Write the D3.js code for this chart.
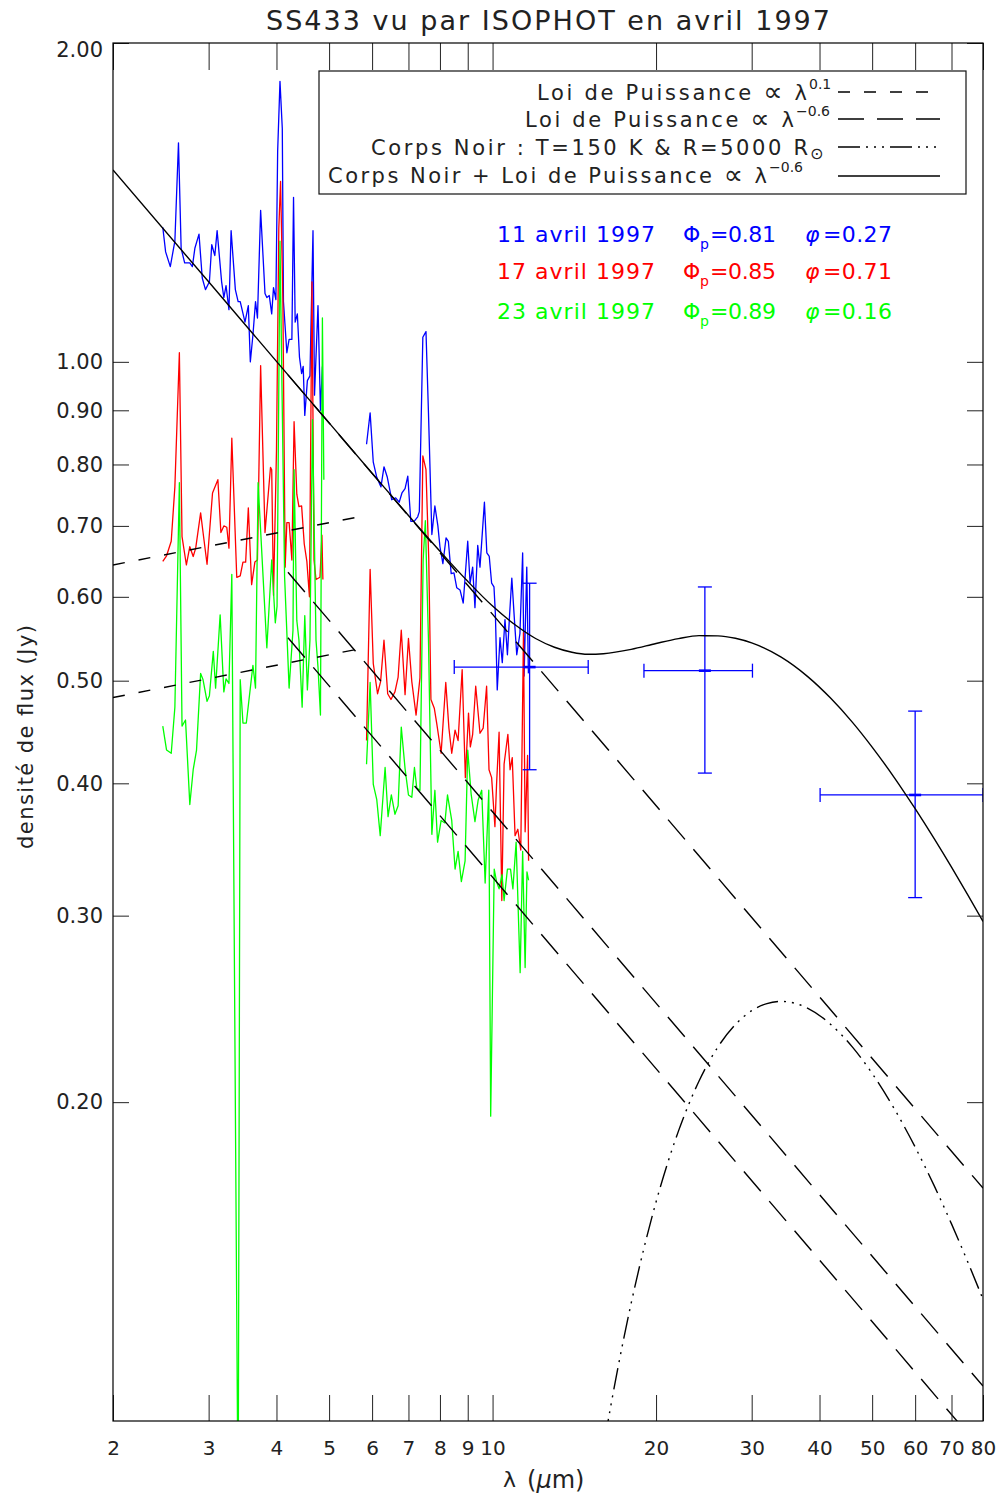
<!DOCTYPE html>
<html><head><meta charset="utf-8">
<script src="https://cdn.jsdelivr.net/npm/d3@7"></script>
<style>
body{margin:0;background:#fff}
svg{display:block}
text{font-family:"DejaVu Sans",sans-serif}
</style>
</head><body>
<svg id="c" width="1002" height="1494"></svg>
<script>
// ---------------- data ----------------
const xTicks = [2,3,4,5,6,7,8,9,10,20,30,40,50,60,70,80];
const yTicks = [0.2,0.3,0.4,0.5,0.6,0.7,0.8,0.9,1.0,2.0];

// 11 avril 1997 (blue)
const blueSS_lam  = [2.47,2.50,2.55,2.60,2.64,2.67,2.71,2.77,2.80,2.83,2.88,2.92,2.96,3.01,3.04,3.08,3.11,3.17,3.20,3.23,3.27,3.30,3.36,3.40,3.43,3.50,3.55,3.58,3.62,3.66,3.69,3.74,3.81,3.84,3.88,3.92,3.95,3.99,4.02,4.06,4.10,4.12,4.18,4.22,4.27,4.30,4.33,4.37,4.41,4.45,4.48,4.51,4.56,4.61,4.67,4.70,4.77,4.82,4.86];
const blueSS_flux = [1.34,1.27,1.23,1.30,1.61,1.28,1.24,1.24,1.23,1.28,1.32,1.20,1.17,1.19,1.29,1.26,1.33,1.19,1.15,1.18,1.12,1.33,1.17,1.14,1.14,1.09,1.13,1.00,1.06,1.14,1.10,1.39,1.16,1.15,1.155,1.11,1.175,1.145,1.58,1.84,1.66,1.14,1.02,1.05,1.05,1.43,1.09,1.11,1.01,0.975,0.99,0.89,0.96,0.97,1.33,0.93,1.13,0.90,0.99];
const blueSL_lam  = [5.86,5.95,6.03,6.12,6.23,6.31,6.40,6.52,6.63,6.73,6.81,6.90,6.98,7.07,7.17,7.28,7.33,7.44,7.54,7.62,7.73,7.83,7.93,8.00,8.10,8.21,8.29,8.39,8.49,8.59,8.71,8.83,9.00,9.09,9.19,9.28,9.39,9.48,9.66,9.76,9.86,9.96,10.06,10.12,10.20,10.32,10.42,10.54,10.65,10.74,10.85,10.97,11.08,11.23,11.36,11.43,11.56,11.64];
const blueSL_flux = [0.836,0.895,0.804,0.778,0.762,0.796,0.778,0.741,0.744,0.737,0.752,0.759,0.780,0.707,0.707,0.714,0.722,1.055,1.068,0.895,0.687,0.731,0.700,0.669,0.645,0.682,0.677,0.631,0.632,0.612,0.609,0.592,0.677,0.618,0.640,0.586,0.671,0.640,0.737,0.660,0.655,0.618,0.613,0.578,0.490,0.549,0.520,0.571,0.529,0.573,0.625,0.571,0.529,0.554,0.660,0.505,0.640,0.508];

// 17 avril 1997 (red)
const redSS_lam  = [2.47,2.51,2.56,2.60,2.65,2.68,2.73,2.77,2.81,2.84,2.90,2.93,2.98,3.05,3.12,3.16,3.20,3.24,3.27,3.31,3.38,3.43,3.47,3.51,3.55,3.60,3.65,3.69,3.74,3.81,3.90,3.92,3.95,4.00,4.04,4.07,4.11,4.15,4.18,4.22,4.27,4.31,4.36,4.40,4.45,4.50,4.55,4.60,4.65,4.69,4.73,4.81,4.85,4.87];
const redSS_flux = [0.648,0.656,0.677,0.762,1.02,0.684,0.643,0.669,0.655,0.667,0.720,0.690,0.644,0.752,0.774,0.690,0.700,0.698,0.667,0.847,0.626,0.628,0.647,0.647,0.728,0.616,0.647,0.650,0.992,0.690,0.795,0.791,0.602,0.824,1.337,1.48,1.145,0.640,0.705,0.705,0.650,0.878,0.750,0.730,0.731,0.673,0.648,0.600,1.19,0.650,0.623,0.626,0.686,0.623];
const redSL_lam  = [5.86,5.95,6.03,6.14,6.22,6.31,6.41,6.50,6.61,6.70,6.79,6.90,7.00,7.10,7.23,7.35,7.44,7.54,7.63,7.70,7.81,7.89,8.04,8.20,8.31,8.41,8.53,8.64,8.79,8.91,9.03,9.10,9.19,9.31,9.48,9.61,9.75,9.85,9.96,10.10,10.17,10.28,10.40,10.50,10.67,10.77,10.87,11.00,11.13,11.27,11.40,11.48,11.60,11.65];
const redSL_flux = [0.439,0.637,0.519,0.486,0.499,0.546,0.486,0.480,0.488,0.504,0.558,0.485,0.548,0.499,0.464,0.503,0.815,0.791,0.650,0.480,0.471,0.456,0.427,0.498,0.451,0.427,0.449,0.439,0.512,0.405,0.466,0.433,0.445,0.494,0.446,0.451,0.494,0.412,0.405,0.364,0.399,0.447,0.310,0.417,0.445,0.412,0.423,0.357,0.362,0.346,0.555,0.360,0.425,0.338];

// 23 avril 1997 (green)
const greenSS_lam  = [2.47,2.51,2.56,2.60,2.65,2.68,2.72,2.77,2.81,2.85,2.90,2.93,2.98,3.01,3.06,3.09,3.15,3.20,3.23,3.27,3.31,3.40,3.43,3.47,3.52,3.58,3.62,3.66,3.70,3.84,3.92,3.98,4.01,4.06,4.14,4.22,4.29,4.31,4.36,4.40,4.46,4.51,4.56,4.61,4.66,4.73,4.77,4.82,4.86,4.89];
const greenSS_flux = [0.453,0.430,0.427,0.472,0.769,0.453,0.459,0.382,0.412,0.430,0.508,0.501,0.478,0.484,0.533,0.492,0.577,0.488,0.502,0.497,0.630,0.08,0.501,0.456,0.456,0.492,0.517,0.492,0.769,0.537,0.650,0.567,0.588,1.30,0.627,0.492,0.558,0.791,0.570,0.546,0.472,0.576,0.490,0.546,0.882,0.546,0.515,0.464,1.10,0.774];
const greenSL_lam  = [5.86,5.95,6.03,6.12,6.21,6.34,6.42,6.51,6.61,6.70,6.79,6.90,7.00,7.10,7.18,7.25,7.35,7.45,7.52,7.62,7.73,7.83,7.92,8.04,8.17,8.26,8.41,8.53,8.64,8.76,8.90,9.00,9.13,9.28,9.41,9.55,9.69,9.84,9.92,10.07,10.17,10.28,10.41,10.50,10.65,10.79,10.90,11.05,11.24,11.36,11.48,11.57,11.65];
const greenSL_flux = [0.417,0.498,0.399,0.386,0.357,0.414,0.372,0.390,0.374,0.381,0.452,0.413,0.390,0.388,0.414,0.396,0.394,0.650,0.708,0.546,0.358,0.394,0.352,0.369,0.367,0.390,0.369,0.332,0.345,0.323,0.338,0.430,0.391,0.368,0.386,0.394,0.322,0.394,0.194,0.332,0.323,0.318,0.328,0.310,0.332,0.332,0.318,0.352,0.265,0.345,0.268,0.330,0.324];

// ISOPHOT photometry (blue), flux +-20 %
const phot_lam    = [11.7, 24.6, 60];
const phot_lamLo  = [8.5, 19.0, 40.1];
const phot_lamHi  = [15.0, 30.1, 80];
const phot_flux   = [0.515, 0.511, 0.390];
const phot_fluxLo = [0.412, 0.409, 0.312];
const phot_fluxHi = [0.618, 0.613, 0.468];

// power laws  ∝ λ^0.1 (short dashes) : red & green fits
const pl01Red_lam = [2, 5.6],   pl01Red_flux = [0.643, 0.713];
const pl01Green_lam = [2, 5.6], pl01Green_flux = [0.482, 0.535];
// power laws ∝ λ^-0.6 (long dashes) : blue, red, green
const pl06Blue_lam = [4.2, 80],  pl06Blue_flux = [0.972, 0.1659];
const pl06Red_lam = [4.2, 80],   pl06Red_flux = [0.633, 0.1079];
const pl06Green_lam = [4.2, 80], pl06Green_flux = [0.549, 0.0936];
// black body T=150 K, R=5000 Rsun
const bb_lam  = [15,16,17,18,19,20,21,22,24,26,28,30,32,34,38,42,46,50,55,60,65,70,75,80];
const bb_flux = [0.0766,0.0943,0.1120,0.1292,0.1456,0.1610,0.1751,0.1879,0.2094,0.2255,0.2368,0.2440,0.2478,0.2490,0.2454,0.2367,0.2254,0.2129,0.1969,0.1814,0.1669,0.1535,0.1413,0.1303];
// black body + power law λ^-0.6
const tot_lam  = [2,3,4,5,6,7,8,9,10,11,12,13,14,15,16,18,20,22,24,26,28,30,34,38,42,46,50,55,60,65,70,75,80];
const tot_flux = [1.5175,1.190,1.001,0.8757,0.785,0.716,0.6625,0.6205,0.588,0.5646,0.548,0.5377,0.5319,0.5295,0.5302,0.5352,0.5421,0.5479,0.5514,0.5512,0.5483,0.5428,0.5262,0.5047,0.4809,0.4567,0.4328,0.4046,0.3785,0.3548,0.3333,0.3138,0.2962];

// ---------------- drawing ----------------
const svg = d3.select("#c");
const L=113, R=983, T=43, B=1421;
const x = d3.scaleLog().domain([2,80]).range([L,R]);
const y = d3.scaleLog().domain([0.1,2]).range([B,T]);

svg.append("clipPath").attr("id","clip").append("rect")
  .attr("x",L).attr("y",T).attr("width",R-L).attr("height",B-T);

const line = d3.line().x(d=>x(d[0])).y(d=>y(d[1]));
const smooth = d3.line().x(d=>x(d[0])).y(d=>y(d[1])).curve(d3.curveMonotoneX);
const plot = svg.append("g").attr("clip-path","url(#clip)");

function series(lam, flux, color, w){
  plot.append("path").datum(d3.zip(lam, flux)).attr("d", line)
    .attr("fill","none").attr("stroke",color).attr("stroke-width",w)
    .attr("stroke-linejoin","round");
}
series(blueSS_lam, blueSS_flux, "#0000ff", 1.3);
series(blueSL_lam, blueSL_flux, "#0000ff", 1.3);
series(redSS_lam, redSS_flux, "#ff0000", 1.3);
series(redSL_lam, redSL_flux, "#ff0000", 1.3);
series(greenSS_lam, greenSS_flux, "#00ff00", 1.3);
series(greenSL_lam, greenSL_flux, "#00ff00", 1.3);

// error bars
const cap = 7;
phot_lam.forEach((l,i)=>{
  const g = plot.append("g").attr("stroke","#0000ff").attr("stroke-width",1.3).attr("fill","none");
  const cx = x(l), cy = y(phot_flux[i]);
  const x0 = x(phot_lamLo[i]), x1 = x(phot_lamHi[i]);
  const y0 = y(phot_fluxHi[i]), y1 = y(phot_fluxLo[i]);
  g.append("line").attr("x1",x0).attr("x2",x1).attr("y1",cy).attr("y2",cy);
  g.append("line").attr("x1",x0).attr("x2",x0).attr("y1",cy-cap).attr("y2",cy+cap);
  g.append("line").attr("x1",x1).attr("x2",x1).attr("y1",cy-cap).attr("y2",cy+cap);
  g.append("line").attr("x1",cx).attr("x2",cx).attr("y1",y0).attr("y2",y1);
  g.append("line").attr("x1",cx-cap).attr("x2",cx+cap).attr("y1",y0).attr("y2",y0);
  g.append("line").attr("x1",cx-cap).attr("x2",cx+cap).attr("y1",y1).attr("y2",y1);
  g.append("line").attr("x1",cx-6).attr("x2",cx+6).attr("y1",cy).attr("y2",cy).attr("stroke-width",2.6);
});

// models
function model(lam, flux, dash, gen){
  plot.append("path").datum(d3.zip(lam, flux)).attr("d", gen||line)
    .attr("fill","none").attr("stroke","#000").attr("stroke-width",1.4)
    .attr("stroke-dasharray", dash);
}
const SHORT="12,14", LONG="26,13", DDD="22,6,2,6,2,6,2,6";
model(pl01Red_lam, pl01Red_flux, SHORT);
model(pl01Green_lam, pl01Green_flux, SHORT);
model(pl06Blue_lam, pl06Blue_flux, LONG);
model(pl06Red_lam, pl06Red_flux, LONG);
model(pl06Green_lam, pl06Green_flux, LONG);
model(bb_lam, bb_flux, DDD, smooth);
model(tot_lam, tot_flux, null, smooth);

// axes
const axG = svg.append("g").attr("font-family","DejaVu Sans").attr("font-size",20);
const xb = axG.append("g").attr("transform",`translate(0,${B})`)
  .call(d3.axisBottom(x).tickValues(xTicks).tickFormat(d3.format("d")).tickSize(-26).tickSizeOuter(0).tickPadding(20));
const xt = axG.append("g").attr("transform",`translate(0,${T})`)
  .call(d3.axisTop(x).tickValues(xTicks).tickFormat("").tickSize(-27).tickSizeOuter(0));
const yl = axG.append("g").attr("transform",`translate(${L},0)`)
  .call(d3.axisLeft(y).tickValues(yTicks).tickFormat(d3.format(".2f")).tickSize(-16).tickSizeOuter(0).tickPadding(10));
const yr = axG.append("g").attr("transform",`translate(${R},0)`)
  .call(d3.axisRight(y).tickValues(yTicks).tickFormat("").tickSize(-16).tickSizeOuter(0));
axG.selectAll(".domain").remove();
axG.selectAll(".tick line").attr("stroke","#222").attr("stroke-width",1);
axG.selectAll("text").attr("fill","#222").attr("font-family","DejaVu Sans");
yl.selectAll("text").attr("font-size",21);
yl.selectAll(".tick").filter(d=>d===2).select("text").attr("dy","0.62em");
xb.selectAll("text").attr("font-size",20);

svg.append("rect").attr("x",L).attr("y",T).attr("width",R-L).attr("height",B-T)
  .attr("fill","none").attr("stroke","#000").attr("stroke-width",1.2);

// title
svg.append("text").attr("x",266).attr("y",30).attr("font-size",27)
  .attr("textLength",564).attr("lengthAdjust","spacing").attr("fill","#222")
  .text("SS433 vu par ISOPHOT en avril 1997");

// axis titles
const xl = svg.append("g").attr("fill","#222");
xl.append("text").attr("x",503).attr("y",1487).attr("font-size",22).text("λ");
const xp = xl.append("text").attr("x",527).attr("y",1488).attr("font-size",24)
  .attr("font-family","DejaVu Serif");
xp.append("tspan").text("(");
xp.append("tspan").attr("font-style","italic").text("μ");
xp.append("tspan").text("m)");

svg.append("text").attr("transform","translate(33,737) rotate(-90)")
  .attr("text-anchor","middle").attr("font-size",21).attr("fill","#222")
  .attr("textLength",224).attr("lengthAdjust","spacing")
  .text("densité de flux (Jy)");

// legend
const lg = svg.append("g");
lg.append("rect").attr("x",319).attr("y",71).attr("width",647).attr("height",123)
  .attr("fill","#fff").attr("stroke","#111").attr("stroke-width",1.2);
const legRows = [
  {pre:"Loi de Puissance ", prop:true, post:" λ", x0:537, x1:807, base:100, sup:"0.1", supX:809, dash:SHORT, ly:92},
  {pre:"Loi de Puissance ", prop:true, post:" λ", x0:525, x1:794, base:127, sup:"−0.6", supX:796, dash:LONG, ly:119},
  {pre:"Corps Noir : T=150 K & R=5000 R", prop:false, post:"", x0:371, x1:808, base:155, sub:"⊙", subX:810, dash:DDD, ly:147},
  {pre:"Corps Noir + Loi de Puissance ", prop:true, post:" λ", x0:328, x1:767, base:183, sup:"−0.6", supX:769, dash:null, ly:176}
];
legRows.forEach(r=>{
  const t = lg.append("text").attr("x",r.x0).attr("y",r.base).attr("font-size",21).attr("fill","#222")
    .attr("textLength",r.x1-r.x0).attr("lengthAdjust","spacing");
  t.append("tspan").text(r.pre);
  if(r.prop){
    t.append("tspan").attr("font-size",27).attr("dy",1).text("∝");
    t.append("tspan").attr("dy",-1).text(r.post);
  }
  if(r.sup) lg.append("text").attr("x",r.supX).attr("y",r.base-11).attr("font-size",14).attr("fill","#222").text(r.sup);
  if(r.sub) lg.append("text").attr("x",r.subX).attr("y",r.base+4).attr("font-size",16).attr("fill","#222").text(r.sub);
  lg.append("line").attr("x1",838).attr("x2",940).attr("y1",r.ly).attr("y2",r.ly)
    .attr("stroke","#000").attr("stroke-width",1.4).attr("stroke-dasharray",r.dash);
});

// date labels
const dates = [
  {d:"11 avril 1997", P:"=0.81", p:"=0.27", c:"#0000ff", base:242},
  {d:"17 avril 1997", P:"=0.85", p:"=0.71", c:"#ff0000", base:279},
  {d:"23 avril 1997", P:"=0.89", p:"=0.16", c:"#00ff00", base:319}
];
dates.forEach(r=>{
  const g = svg.append("g").attr("fill",r.c).attr("font-size",22);
  g.append("text").attr("x",497).attr("y",r.base).attr("textLength",158).attr("lengthAdjust","spacing").text(r.d);
  g.append("text").attr("x",683).attr("y",r.base).text("Φ");
  g.append("text").attr("x",700).attr("y",r.base+7).attr("font-size",14).text("p");
  g.append("text").attr("x",710).attr("y",r.base).attr("textLength",66).attr("lengthAdjust","spacing").text(r.P);
  g.append("text").attr("x",805).attr("y",r.base).attr("font-style","italic").text("φ");
  g.append("text").attr("x",823).attr("y",r.base).attr("textLength",69).attr("lengthAdjust","spacing").text(r.p);
});
</script>
</body></html>
